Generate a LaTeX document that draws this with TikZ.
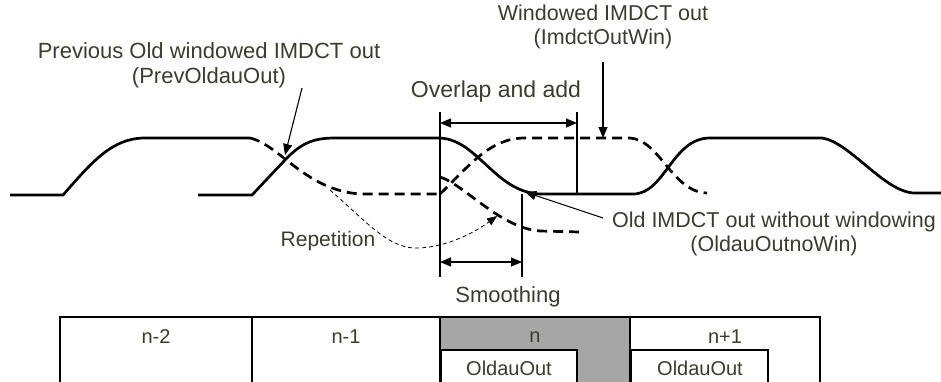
\documentclass[tikz,border=0pt]{standalone}
\usepackage{fontspec}
\setmainfont{Liberation Sans}
\usetikzlibrary{arrows.meta}
\definecolor{txt}{HTML}{3B3B2E}
\definecolor{cellgray}{HTML}{A6A6A6}
\begin{document}
\begin{tikzpicture}[x=1pt, y=-1pt,
    wave/.style={line width=2.7pt},
    wavedash/.style={line width=2.7pt, dash pattern=on 10pt off 6pt},
    repline/.style={line width=0.8pt, dash pattern=on 4pt off 3pt, -{Triangle[length=10pt,width=8pt]}},
    guide/.style={line width=1.1pt},
    dim/.style={line width=1.1pt, {Triangle[length=11pt,width=9pt]}-{Triangle[length=11pt,width=9pt]}},
    pointer/.style={line width=1.1pt, -{Triangle[length=11pt,width=9pt]}},
    lbl/.style={text=txt, align=center, inner sep=0pt, font=\fontsize{20}{25}\selectfont},
    cell/.style={line width=2.6pt}]
    
    \useasboundingbox (0,0) rectangle (941,381);
    \clip (0,0) rectangle (941,381);
    
    % frame table
    \fill[cellgray] (440,317) rectangle (630,395);
    \fill[white] (441,350) rectangle (577,395);
    \draw[cell] (60,395) |- (820,317) -- (820,395);
    \foreach \x in {252,440,630}
        \draw[cell] (\x,317) -- (\x,395);
    \draw[cell] (441,395) |- (577,350) -- (577,395);
    \draw[cell] (631,395) |- (768,350) -- (768,395);
    
    \node[lbl] (cellnmm) at (156,337) {n-2};
    \node[lbl] (cellnm) at (346,337) {n-1};
    \node[lbl] (celln) at (535,337) {n};
    \node[lbl] (cellnp) at (725,337) {n+1};
    \node[lbl] (oldn) at (509,368) {OldauOut};
    \node[lbl] (oldnp) at (700,368) {OldauOut};
    
    % windows
    \draw[wave] (10,195) -- (63,195) .. controls (92,162) and (112,138) .. (145,138) -- (250,138);
    \draw[wavedash] (250,138) .. controls (280,145) and (305,190) .. (360,194) -- (440,194);
    \draw[wave] (198,195) -- (252,195) -- (285,160) .. controls (302,142) and (315,138) .. (335,138) -- (440,138)
        .. controls (478,140) and (495,192) .. (540,194) -- (633,194)
        .. controls (665,194) and (672,138) .. (710,138) -- (822,138)
        .. controls (850,142) and (885,193) .. (915,193) -- (945,193);
    \draw[wavedash] (440,194) .. controls (470,165) and (490,138) .. (525,138) -- (630,138)
        .. controls (660,140) and (672,192) .. (707,193);
    \draw[wavedash] (440,177) .. controls (465,185) and (500,228) .. (540,231) -- (580,232);
    \draw[repline] (330,190) .. controls (370,225) and (390,250) .. (420,248)
        .. controls (450,246) and (475,232) .. (497,216);
    
    % guides and spans
    \draw[guide] (440,112) -- (440,277);
    \draw[guide] (577,112) -- (577,194);
    \draw[guide] (522,194) -- (522,277);
    \coordinate (ovlL) at (440,123);
    \coordinate (ovlR) at (577,123);
    \coordinate (smoL) at (440,262);
    \coordinate (smoR) at (522,262);
    \draw[dim] (ovlL) -- (ovlR);
    \draw[dim] (smoL) -- (smoR);
    
    % labels
    \node[lbl, font=\fontsize{22}{25}\selectfont] (prevlbl) at (209,65) {Previous Old windowed IMDCT out\\(PrevOldauOut)};
    \node[lbl, font=\fontsize{21.5}{24}\selectfont] (winlbl) at (603,27) {Windowed IMDCT out\\(ImdctOutWin)};
    \node[lbl, font=\fontsize{23}{28}\selectfont] (ovllbl) at (496,92) {Overlap and add};
    \node[lbl, font=\fontsize{21.5}{24}\selectfont] (oldlbl) at (774,234) {Old IMDCT out without windowing\\(OldauOutnoWin)};
    \node[lbl, font=\fontsize{21}{25}\selectfont] (replbl) at (328,241) {Repetition};
    \node[lbl, font=\fontsize{22}{25}\selectfont] (smolbl) at (508,297) {Smoothing};
    
    \coordinate (prevfrom) at (302,88);
    \coordinate (prevto) at (285,155);
    \coordinate (winfrom) at (603,62);
    \coordinate (winto) at (603,138);
    \coordinate (oldfrom) at (603,218);
    \coordinate (oldto) at (525,192);
    \draw[pointer] (prevfrom) -- (prevto);
    \draw[pointer] (winfrom) -- (winto);
    \draw[pointer] (oldfrom) -- (oldto);
\end{tikzpicture}
\end{document}
